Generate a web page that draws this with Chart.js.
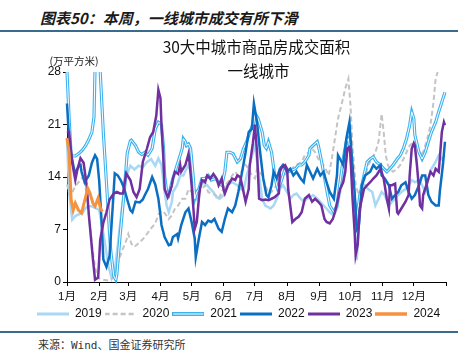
<!DOCTYPE html>
<html>
<head>
<meta charset="utf-8">
<script src="https://cdn.jsdelivr.net/npm/chart.js@4.4.1/dist/chart.umd.min.js"></script>
<style>
html, body { margin: 0; padding: 0; background: #fff; }
body { width: 469px; height: 363px; position: relative; overflow: hidden; }
#head { position: absolute; left: 40px; top: 7px; font: italic bold 15px "Noto Sans CJK SC", sans-serif; color: #1a1a1a; white-space: nowrap; }
.rule { position: absolute; left: 0; width: 458px; height: 1.5px; background: #3a6a8c; }
#src { position: absolute; left: 38px; top: 336px; font: 11px "DejaVu Sans Mono", "Noto Sans CJK SC", monospace; color: #333; white-space: nowrap; }
#box { position: absolute; left: 31px; top: 36px; width: 440px; height: 294px; }
</style>
</head>
<body>
<div id="head">图表50：本周，一线城市成交有所下滑</div>
<div class="rule" style="top:30px"></div>
<div id="box"><canvas id="areaChart"></canvas></div>
<div class="rule" style="top:331px"></div>
<div id="src">来源：Wind、国金证券研究所</div>
<script>
// 每个序列: [一年中的第几天, 成交面积(万平方米)]
const monthLabels = ['1月', '2月', '3月', '4月', '5月', '6月', '7月', '8月', '9月', '10月', '11月', '12月'];
const monthStarts = [0, 31, 59, 90, 120, 151, 181, 212, 243, 273, 304, 334, 365];
const titleLines = ['30大中城市商品房成交面积', '一线城市'];
const unitLabel = '(万平方米)';
const years = ['2019', '2020', '2021', '2022', '2023', '2024'];

const s2019 = [[0,19],[2,12],[5,8.3],[8,8.8],[11,9],[15,9.2],[18,9.9],[21,10.1],[24,10.1],[27,9.9],[31,9.6],[35,6.5],[40,2.1],[43,0.5],[46,1.5],[49,5],[53,10],[57,14],[61,15.5],[65,15],[69,15.5],[73,15.3],[77,16],[81,16.4],[85,15.5],[88,16.5],[91,15.6],[94,12],[96,10.2],[98,9.3],[101,10.7],[102,12],[106,12.9],[109,14.2],[112,14.2],[115,15.1],[117,15.6],[120,14.2],[123,11.6],[125,11.1],[128,12.4],[131,13.3],[135,12.9],[138,12.4],[141,12],[144,11.3],[147,11.1],[151,11.6],[154,12.9],[159,13.3],[164,12.9],[167,12.4],[170,12.2],[173,14.2],[176,15.6],[179,17.3],[181,18.2],[184,15.1],[188,11.1],[191,10.2],[196,9.8],[199,10.2],[202,11.1],[205,12.4],[208,12.9],[212,12],[215,11.1],[218,11.6],[221,11.8],[225,11.1],[228,10.7],[231,11.1],[234,11.3],[237,11.6],[241,11.1],[244,10.7],[247,10.2],[250,9.8],[253,9.3],[257,8.9],[260,9.8],[263,12],[266,13.8],[269,16.4],[271,20],[274,15.6],[277,8.4],[279,2.9],[281,7.6],[284,12],[287,12.9],[290,12.4],[294,12],[297,10.2],[300,11.1],[303,12],[306,11.6],[310,10.2],[313,10.7],[316,11.1],[319,11.6],[322,12],[326,12.4],[329,12.9],[332,13.6],[335,13.3],[339,13.6],[342,12.9],[345,12],[348,13.8],[351,15.1],[355,16],[358,16.9],[361,16.4],[364,16.9]];

const s2020 = [[0,13],[3,11.5],[5,11.9],[8,12.8],[13,13.6],[16,14.1],[18,12.5],[21,9],[24,5],[27,2],[30,0.5],[35,0.3],[40,0.2],[44,0.5],[47,1.5],[50,3],[54,4.5],[57,5.5],[59,6.4],[62,5.1],[65,4.7],[70,5.3],[75,6],[80,7],[85,7.8],[88,9],[91,9.5],[94,9.2],[98,8.4],[101,8.9],[104,9.8],[107,10.2],[111,11.1],[114,11.1],[117,12.4],[120,12],[123,11.1],[127,12],[130,12.4],[133,12.9],[136,12],[139,11.8],[143,11.6],[146,11.1],[149,12],[152,12.9],[155,13.3],[159,14.2],[162,14.7],[165,14.2],[168,14.7],[172,15.6],[175,15.1],[178,14.2],[181,13.8],[183,15.1],[188,14.2],[191,12.9],[194,11.8],[197,12],[202,12.9],[207,13.8],[212,14.7],[216,15.1],[221,15.6],[226,16],[229,16.9],[233,17.3],[236,17.8],[239,17.3],[242,16.4],[245,16],[249,15.1],[252,14.2],[255,16.4],[258,19.1],[261,21.8],[265,24],[268,25.8],[271,27.1],[273,23.6],[275,18],[278,13],[281,11.5],[284,13.3],[287,13.8],[290,15.6],[294,16.4],[297,17.3],[300,18.7],[303,22.4],[305,20],[307,16.9],[309,15.6],[311,15.1],[314,14.7],[318,15.1],[321,15.6],[324,16.4],[327,17.3],[330,18.2],[334,18.7],[337,17.8],[340,16.9],[343,17.3],[347,19.1],[350,20.9],[353,24],[355,27.1],[357,28]];

const s2021 = [[0,28],[2,22],[4,16.8],[8,16.8],[12,17.2],[15,17.6],[18,18.2],[21,19],[24,20],[26,22],[27,28.5],[29,31],[31,30],[32,28],[35,19.9],[39,11],[42,4.3],[45,0.8],[47,0.3],[48,1],[51,6],[55,11.9],[58,17.2],[61,18.8],[62,18.9],[66,18.2],[69,17.3],[72,17],[75,17.3],[78,16.9],[82,17.8],[85,20.4],[88,21.3],[91,21],[93,17.8],[94,14.2],[96,12],[98,11.6],[101,13.3],[104,14.7],[107,16],[111,17.8],[112,19.1],[114,18.7],[115,18.2],[117,18.4],[119,17.8],[120,16.4],[122,13.3],[123,11.1],[125,12],[127,12.4],[130,13.8],[133,13.8],[136,14.2],[139,13.6],[143,13.8],[146,13.3],[149,12.9],[152,14.7],[154,17.3],[157,17.3],[160,17.1],[164,16],[167,16.4],[170,17.8],[173,18.7],[176,20],[180,21.3],[181,22.5],[184,21.8],[188,20],[190,18.2],[192,17.8],[194,18.7],[197,17.3],[200,14.2],[202,12.9],[203,12.4],[205,12.9],[208,14.2],[210,15.1],[213,14.7],[216,14.9],[220,15.1],[223,15.6],[226,15.6],[229,16],[233,16.9],[234,17.8],[237,18.2],[241,18.7],[242,18.2],[244,16.9],[247,14.7],[250,12.4],[253,10.2],[257,9.3],[260,10.2],[263,13.3],[266,16.4],[269,18.7],[271,19.1],[273,17.3],[276,12],[279,8.4],[282,11.5],[286,14.2],[289,16],[292,16.4],[295,16.7],[298,16],[302,15.6],[305,15.1],[308,14.7],[311,15.1],[314,15.6],[318,16.4],[321,16.9],[324,17.8],[327,19.1],[330,20.9],[332,22.7],[334,21.8],[335,19.6],[339,17.3],[342,16.4],[345,17.3],[348,18.7],[351,20],[355,21.3],[358,22.7],[361,24],[364,25.3]];

const s2022 = [[0,23.8],[2,19],[3,17.8],[5,16.3],[7,14.9],[8,14.5],[11,15.4],[13,15.6],[14,14.7],[17,13.3],[21,14.2],[24,15.9],[27,16.9],[29,16.4],[31,13.5],[33,8.8],[35,3],[38,2],[41,3.5],[44,10],[46,14.5],[49,14.2],[52,13.5],[55,12.5],[58,11],[61,9.6],[63,9.3],[66,10.7],[70,10.6],[73,11],[75,11.6],[78,12.4],[82,14],[85,13],[88,11.1],[90,8.9],[91,7.6],[94,6],[98,4.9],[100,5],[102,6],[106,6.4],[107,5.8],[110,7.6],[114,9.3],[117,9.8],[120,8],[123,5.8],[124,3.3],[127,5.8],[130,8],[133,7.6],[136,8.2],[139,8],[142,8.4],[146,7.1],[149,6.7],[152,8.4],[155,9.8],[159,9.3],[162,10.2],[165,12],[168,14.2],[172,17.3],[175,20],[178,20.4],[180,23.8],[183,21.3],[186,17.3],[189,13.8],[192,11.6],[194,11.3],[197,12.9],[199,14.7],[202,13.8],[205,15.1],[208,15.6],[212,14.7],[215,15.1],[218,14.2],[221,14.7],[225,13.8],[228,13.3],[231,15.6],[234,14.7],[237,13.8],[241,15.1],[244,14.2],[247,14.7],[250,13.3],[253,12],[257,11.1],[260,14.2],[261,16.9],[263,16.4],[266,15.6],[269,19.1],[272,21.3],[274,17.3],[277,12],[279,7],[281,7.5],[284,12.9],[287,14.2],[292,14.7],[295,15.6],[298,15.1],[302,15.6],[303,14.2],[306,13.8],[310,12.9],[313,11.1],[316,11.6],[319,12],[322,12.9],[326,13.3],[329,12],[332,11.1],[335,11.6],[339,12.9],[342,14.2],[345,14.2],[348,11.6],[351,10.7],[355,10.2],[358,10.2],[359,12],[362,15.6],[364,18.7]];

const s2023 = [[0,20.1],[2,20],[5,15.9],[8,13.6],[10,15],[13,16.5],[16,15.9],[19,12.8],[21,9],[23,6],[25,3],[27,0.3],[30,0.6],[32,5.6],[35,7.9],[38,9.3],[41,11],[45,11.8],[48,12],[51,11.8],[54,11.8],[57,14.5],[61,13.6],[64,12],[67,11.3],[70,12.4],[73,16],[77,17.8],[80,19.3],[83,20],[86,22.2],[88,25.6],[90,24.5],[91,20.9],[93,16],[94,12.4],[97,11.3],[99,12],[101,12.9],[102,13.8],[104,14.7],[107,14.4],[109,15.6],[110,14.7],[114,15.6],[117,17.1],[118,16],[120,12.9],[122,9.3],[123,7.1],[125,8],[127,11.1],[128,12.4],[130,13.6],[133,13.3],[135,14.2],[138,13.8],[141,14.4],[144,13.8],[146,12.9],[149,13.8],[151,12.2],[152,11.8],[155,12.9],[159,13.8],[162,13.6],[164,14.2],[167,14],[168,13.3],[170,12],[172,10.7],[175,12.4],[176,15.6],[179,18.5],[181,21],[183,17.3],[185,11.1],[188,10.9],[191,11],[194,10.9],[197,11.1],[200,11.3],[204,11.8],[205,14.7],[207,15.3],[210,15.6],[212,15.1],[213,12.4],[215,10.2],[217,8],[220,8.4],[223,8.7],[226,9.3],[229,11.1],[233,11.6],[236,10.7],[239,11.1],[242,10.7],[245,10.2],[248,8.4],[250,8],[253,7.8],[256,8.4],[258,9.3],[261,11.1],[263,12.4],[266,13.3],[268,14.7],[270,17.8],[272,18],[273,16.9],[275,11.1],[277,6.7],[278,3.6],[280,5],[282,9.8],[286,12.4],[289,12.9],[292,13.3],[295,13.8],[298,14.2],[302,15.1],[305,13.8],[308,11.1],[310,9.8],[311,12.9],[313,12.9],[316,13.1],[318,9.3],[319,9.1],[322,9.8],[326,10.7],[329,11.6],[330,14.2],[332,17.8],[334,18.5],[335,18.2],[337,15.6],[339,12.4],[340,10.2],[342,9.8],[343,11.6],[347,13.3],[350,14.7],[353,14.2],[355,15.1],[358,14.7],[359,16.4],[361,20],[363,21.3],[364,20.9]];

const s2024 = [[0,19.2],[2,17.2],[4,11],[6,9.6],[8,10.5],[11,9.6],[14,9.2],[18,11.4],[20,12.5],[22,11.9],[25,10.5],[27,10.1],[30,11.2],[32,9.9],[34,9.4]];

const toPoints = s => s.map(p => ({ x: p[0], y: p[1] }));

// 图例里的小线段
function swatch(color, width, dash, hollow) {
    const c = document.createElement('canvas');
    c.width = 32;
    c.height = 6;
    const g = c.getContext('2d');
    g.strokeStyle = color;
    g.lineWidth = width;
    g.setLineDash(dash || []);
    g.beginPath();
    g.moveTo(0, 3);
    g.lineTo(32, 3);
    g.stroke();
    if (hollow) {
        g.strokeStyle = '#fff';
        g.lineWidth = 1;
        g.beginPath();
        g.moveTo(1, 3);
        g.lineTo(31, 3);
        g.stroke();
    }
    return c;
}

const clipBox = { left: 3, top: 0, right: 3, bottom: 3 };

function series(label, data, color, width, order, extra) {
    return Object.assign({
        label: label,
        data: toPoints(data),
        borderColor: color,
        backgroundColor: color,
        borderWidth: width,
        pointRadius: 0,
        pointHoverRadius: 0,
        tension: 0,
        fill: false,
        order: order,
        clip: clipBox
    }, extra || {});
}

const textPlugin = {
    id: 'chartTexts',
    afterDraw(chart) {
        const { ctx, chartArea } = chart;
        const cx = (chartArea.left + chartArea.right) / 2;
        ctx.save();
        ctx.fillStyle = '#111';
        ctx.textAlign = 'center';
        ctx.textBaseline = 'middle';
        ctx.font = '15.5px "Noto Sans CJK SC"';
        ctx.fillText(titleLines[0], cx, chartArea.top - 25);
        ctx.fillText(titleLines[1], cx + 2, chartArea.top - 1);
        ctx.font = '10.5px "Noto Sans CJK SC"';
        ctx.fillStyle = '#222';
        ctx.fillText(unitLabel, chartArea.left + 7, chartArea.top - 11);
        ctx.restore();
    }
};

new Chart(document.getElementById('areaChart').getContext('2d'), {
    type: 'line',
    data: {
        datasets: [
            series(years[0], s2019, '#a8d8f5', 2.5, 6, { pointStyle: swatch('#a8d8f5', 3) }),
            series(years[1], s2020, '#c4c4c4', 2, 5, { borderDash: [5, 3], pointStyle: swatch('#c4c4c4', 2.5, [5, 3]) }),
            series(years[2], s2021, '#3db3ee', 3.2, 4, { pointStyle: swatch('#3db3ee', 4, null, true) }),
            series('', s2021, '#ffffff', 1, 3),
            series(years[3], s2022, '#0a6fc2', 2.5, 2, { pointStyle: swatch('#0a6fc2', 3) }),
            series(years[4], s2023, '#7030a0', 2.5, 1, { pointStyle: swatch('#7030a0', 3) }),
            series(years[5], s2024, '#f5923f', 3, 0, { pointStyle: swatch('#f5923f', 3.5) })
        ]
    },
    options: {
        responsive: true,
        maintainAspectRatio: false,
        animation: false,
        layout: { padding: { left: 0, right: 25, top: 36, bottom: 0 } },
        plugins: {
            title: { display: false },
            tooltip: { enabled: false },
            legend: {
                display: true,
                position: 'bottom',
                align: 'center',
                labels: {
                    usePointStyle: true,
                    pointStyleWidth: 32,
                    padding: 3,
                    color: '#111',
                    font: { size: 12, family: '"Liberation Sans", Arial, sans-serif' },
                    filter: item => item.text !== '',
                    sort: (a, b) => a.datasetIndex - b.datasetIndex
                }
            }
        },
        scales: {
            x: {
                type: 'linear',
                min: 0,
                max: 365,
                afterBuildTicks: s => { s.ticks = monthStarts.map(v => ({ value: v })); },
                afterFit: s => { s.height = 23; },
                border: { display: true, color: '#000', width: 1 },
                grid: { display: true, drawOnChartArea: false, drawTicks: true, tickLength: 4, color: '#000' },
                ticks: {
                    autoSkip: false,
                    maxRotation: 0,
                    minRotation: 0,
                    padding: 4,
                    color: '#111',
                    font: { size: 11.5, family: '"Liberation Sans", "Noto Sans CJK SC", sans-serif' },
                    callback: (v, i) => monthLabels[i] || ''
                }
            },
            y: {
                min: 0,
                max: 28,
                afterFit: s => { s.width = 36; },
                border: { display: true, color: '#000', width: 1 },
                grid: { display: true, drawOnChartArea: false, drawTicks: true, tickLength: 4, color: '#000' },
                ticks: {
                    stepSize: 7,
                    padding: 2,
                    color: '#111',
                    font: { size: 12, family: '"Liberation Sans", Arial, sans-serif' }
                }
            }
        }
    },
    plugins: [textPlugin]
});
</script>
</body>
</html>
